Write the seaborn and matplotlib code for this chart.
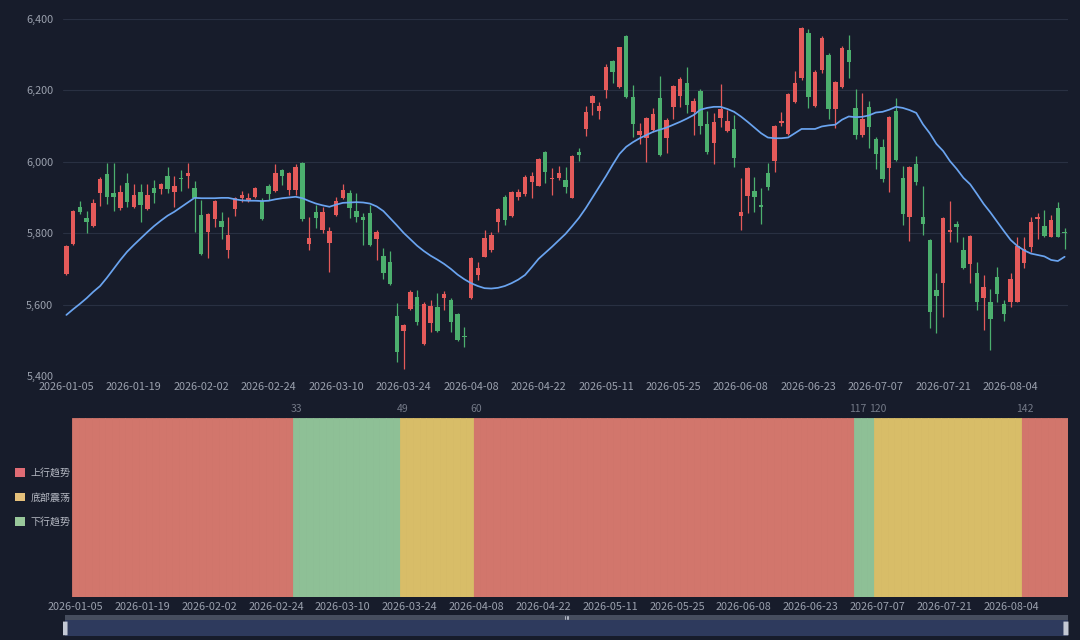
import numpy as np
import pandas as pd
import matplotlib
matplotlib.use("Agg")
import matplotlib.pyplot as plt
import seaborn as sns
from matplotlib.patches import Patch, Rectangle, FancyBboxPatch
from matplotlib.ticker import FuncFormatter

# trading calendar (weekdays minus exchange holidays)
holidays = ["2026-02-16", "2026-02-17", "2026-02-18", "2026-02-19", "2026-02-20",
            "2026-02-23", "2026-04-06", "2026-05-01", "2026-05-04", "2026-05-05",
            "2026-06-19"]
days = pd.bdate_range("2026-01-05", "2026-08-14")
days = days[~days.isin(pd.to_datetime(holidays))]
dates = [d.strftime("%Y-%m-%d") for d in days]

# OHLC
open_ = [5686, 5769, 5873, 5842, 5821, 5912, 5965, 5914, 5870, 5942,
         5872, 5916, 5867, 5928, 5924, 5961, 5916, 5954, 5961, 5926,
         5850, 5804, 5839, 5834, 5753, 5868, 5898, 5893, 5902, 5890,
         5932, 5919, 5977, 5921, 5921, 5996, 5770, 5860, 5809, 5772,
         5851, 5898, 5914, 5862, 5846, 5856, 5784, 5736, 5718, 5569,
         5526, 5588, 5622, 5490, 5548, 5594, 5619, 5613, 5573, 5513,
         5619, 5683, 5734, 5753, 5832, 5902, 5849, 5902, 5910, 5944,
         5933, 6028, 5951, 5956, 5949, 5900, 6028, 6092, 6164, 6143,
         6201, 6282, 6209, 6353, 6181, 6075, 6066, 6089, 6178, 6066,
         6153, 6184, 6222, 6139, 6198, 6105, 6052, 6122, 6086, 6091,
         5849, 5905, 5919, 5879, 5968, 6002, 6108, 6078, 6167, 6234,
         6360, 6156, 6257, 6299, 6148, 6209, 6313, 6150, 6075, 6154,
         6063, 6041, 5982, 6143, 5956, 5846, 5994, 5844, 5781, 5641,
         5661, 5804, 5826, 5753, 5713, 5688, 5619, 5606, 5678, 5602,
         5608, 5608, 5716, 5762, 5840, 5821, 5790, 5870, 5804]
high = [5768, 5864, 5890, 5862, 5896, 5958, 5998, 5998, 5935, 5968,
        5939, 5939, 5939, 5949, 5942, 5986, 5961, 5977, 5996, 5946,
        5893, 5856, 5893, 5859, 5844, 5902, 5918, 5914, 5929, 5898,
        5938, 5993, 5979, 5971, 5993, 6000, 5846, 5879, 5874, 5818,
        5902, 5937, 5921, 5914, 5856, 5879, 5809, 5758, 5751, 5605,
        5545, 5641, 5641, 5608, 5613, 5632, 5639, 5618, 5576, 5538,
        5734, 5720, 5809, 5802, 5870, 5907, 5918, 5923, 5963, 5971,
        6010, 6030, 5982, 5989, 5986, 6019, 6038, 6157, 6187, 6168,
        6273, 6285, 6322, 6355, 6215, 6108, 6126, 6150, 6240, 6122,
        6215, 6237, 6265, 6178, 6203, 6142, 6136, 6218, 6145, 6131,
        5954, 5986, 5958, 5926, 5996, 6103, 6140, 6192, 6255, 6378,
        6371, 6257, 6351, 6304, 6226, 6323, 6355, 6203, 6192, 6170,
        6070, 6063, 6129, 6178, 5989, 5988, 6016, 5932, 5783, 5688,
        5844, 5890, 5834, 5788, 5794, 5720, 5683, 5643, 5706, 5613,
        5688, 5790, 5790, 5846, 5856, 5865, 5851, 5888, 5814]
low = [5684, 5767, 5853, 5800, 5818, 5877, 5881, 5862, 5865, 5874,
       5870, 5830, 5865, 5884, 5909, 5912, 5872, 5919, 5926, 5804,
       5739, 5731, 5816, 5783, 5731, 5849, 5886, 5888, 5898, 5837,
       5893, 5916, 5935, 5907, 5907, 5835, 5753, 5814, 5800, 5692,
       5848, 5896, 5842, 5832, 5767, 5765, 5725, 5671, 5655, 5440,
       5420, 5586, 5543, 5487, 5524, 5524, 5585, 5524, 5499, 5482,
       5617, 5669, 5734, 5748, 5804, 5823, 5846, 5893, 5904, 5900,
       5931, 5940, 5907, 5949, 5912, 5898, 6002, 6073, 6131, 6119,
       6180, 6220, 6207, 6180, 6070, 6049, 6000, 6084, 6016, 6026,
       6119, 6153, 6136, 6075, 6077, 6022, 5994, 6098, 6084, 5986,
       5809, 5856, 5858, 5826, 5921, 5972, 6100, 6075, 6164, 6229,
       6150, 6154, 6250, 6120, 6094, 6206, 6234, 6063, 6070, 6040,
       5980, 5944, 5916, 6003, 5823, 5779, 5935, 5795, 5534, 5520,
       5564, 5774, 5776, 5699, 5660, 5585, 5529, 5473, 5608, 5555,
       5594, 5606, 5702, 5748, 5783, 5788, 5788, 5788, 5755]
close = [5765, 5862, 5860, 5830, 5884, 5951, 5901, 5902, 5916, 5888,
         5907, 5879, 5907, 5912, 5938, 5924, 5932, 5951, 5970, 5900,
         5742, 5854, 5890, 5818, 5794, 5900, 5907, 5900, 5926, 5840,
         5909, 5970, 5961, 5968, 5986, 5839, 5787, 5842, 5860, 5806,
         5891, 5921, 5870, 5844, 5837, 5767, 5804, 5688, 5657, 5466,
         5543, 5636, 5552, 5601, 5597, 5526, 5630, 5550, 5501, 5510,
         5730, 5702, 5786, 5795, 5867, 5837, 5916, 5916, 5957, 5961,
         6008, 5972, 5956, 5968, 5930, 6016, 6019, 6139, 6184, 6156,
         6265, 6251, 6321, 6182, 6106, 6086, 6124, 6133, 6019, 6117,
         6213, 6231, 6159, 6171, 6100, 6028, 6112, 6147, 6115, 6010,
         5858, 5984, 5902, 5872, 5930, 6100, 6114, 6190, 6222, 6376,
         6182, 6252, 6346, 6148, 6224, 6318, 6279, 6075, 6120, 6097,
         6022, 5951, 6125, 6005, 5853, 5986, 5944, 5826, 5578, 5624,
         5842, 5809, 5816, 5703, 5792, 5608, 5648, 5559, 5630, 5573,
         5671, 5764, 5755, 5832, 5844, 5793, 5837, 5790, 5800]
ma = [5571, 5587, 5602, 5618, 5636, 5652, 5675, 5700, 5725, 5748,
      5767, 5785, 5803, 5820, 5835, 5849, 5860, 5873, 5886, 5899,
      5898, 5898, 5898, 5899, 5899, 5895, 5892, 5891, 5891, 5890,
      5891, 5895, 5898, 5900, 5902, 5898, 5890, 5883, 5878, 5874,
      5880, 5885, 5886, 5887, 5886, 5883, 5875, 5862, 5842, 5822,
      5801, 5783, 5765, 5750, 5737, 5726, 5714, 5700, 5684, 5671,
      5660, 5652, 5646, 5645, 5647, 5652, 5660, 5670, 5683, 5705,
      5728, 5745, 5762, 5780, 5798, 5820, 5843, 5870, 5900, 5930,
      5960, 5992, 6022, 6042, 6055, 6066, 6075, 6084, 6090, 6096,
      6104, 6112, 6121, 6131, 6146, 6151, 6154, 6154, 6148, 6140,
      6127, 6112, 6096, 6080, 6068, 6066, 6066, 6068, 6080, 6092,
      6092, 6092, 6099, 6102, 6104, 6118, 6127, 6125, 6126, 6130,
      6138, 6140, 6146, 6154, 6151, 6145, 6137, 6105, 6080, 6050,
      6030, 6002, 5980, 5955, 5937, 5910, 5882, 5858, 5832, 5806,
      5781, 5764, 5752, 5743, 5739, 5735, 5725, 5722, 5734]

# market regimes: first index of each segment
regime_starts = [0, 33, 49, 60, 117, 120, 142]
regime_names = ["上行趋势", "下行趋势", "底部震荡", "上行趋势", "下行趋势", "底部震荡", "上行趋势"]
legend_order = ["上行趋势", "底部震荡", "下行趋势"]

n = len(dates)
regime = []
for k, s in enumerate(regime_starts):
    e = regime_starts[k + 1] if k + 1 < len(regime_starts) else n
    regime += [regime_names[k]] * (e - s)

bg = "#171c2b"
up_c, down_c = "#e45a5a", "#4caf6e"
bar_pal = {"上行趋势": "#d2766c", "底部震荡": "#d8bd68", "下行趋势": "#8ec096"}
leg_pal = {"上行趋势": "#e06c75", "底部震荡": "#e5c07b", "下行趋势": "#98c79a"}
txt_c = "#9aa0ad"

sns.set_theme(style="dark")
plt.rcParams["font.family"] = ["Noto Sans CJK SC", "DejaVu Sans"]
plt.rcParams["axes.unicode_minus"] = False

fig = plt.figure(figsize=(10.8, 6.4), dpi=100, facecolor=bg)
W, H = 1080, 640

# ---- candlestick panel
ax1 = fig.add_axes([63 / W, 1 - 376 / H, 1005 / W, 357 / H], facecolor=bg)
idx = np.arange(n)
o, h, l, c = map(np.array, (open_, high, low, close))
cols = np.where(c >= o, up_c, down_c)
ax1.vlines(idx, l, h, colors=cols, linewidth=0.9, zorder=2)
body = np.maximum(np.abs(c - o), 2.5)
ax1.bar(idx, body, bottom=np.minimum(o, c), width=0.66, color=cols, linewidth=0, zorder=3)
sns.lineplot(x=idx, y=ma, ax=ax1, color="#6aa4f0", linewidth=1.25, zorder=4)

ax1.set_xlim(-0.5, n - 0.5)
ax1.set_ylim(5400, 6400)
ax1.set_yticks(range(5400, 6401, 200))
ax1.yaxis.set_major_formatter(FuncFormatter(lambda v, p: f"{v:,.0f}"))
ax1.set_xticks(idx[::10])
ax1.set_xticklabels(dates[::10])
ax1.grid(axis="y", color="#293042", linewidth=0.8)
ax1.grid(axis="x", visible=False)
ax1.tick_params(axis="both", length=0, labelsize=7.8, colors=txt_c)
ax1.tick_params(axis="y", pad=7)
ax1.tick_params(axis="x", pad=4.5)
for s in ax1.spines.values():
    s.set_visible(False)
ax1.set_xlabel("")
ax1.set_ylabel("")

# ---- regime panel
ax2 = fig.add_axes([72 / W, 1 - 597 / H, 996 / W, 179 / H], facecolor=bg)
reg_df = pd.DataFrame({"i": idx, "v": 1, "regime": regime})
sns.barplot(data=reg_df, x="i", y="v", hue="regime", palette=bar_pal, dodge=False,
            width=1.0, errorbar=None, legend=False, saturation=1, ax=ax2, linewidth=0)
# close the antialiasing seams between neighbouring bars
for p in ax2.patches:
    p.set_edgecolor(p.get_facecolor())
    p.set_linewidth(0.6)
ax2.set_xlim(-0.5, n - 0.5)
ax2.set_ylim(0, 1)
ax2.set_yticks([])
ax2.set_xticks(idx[::10])
ax2.set_xticklabels(dates[::10])
ax2.tick_params(axis="x", length=0, labelsize=7.8, colors=txt_c, pad=3.5)
ax2.grid(False)
for s in ax2.spines.values():
    s.set_visible(False)
ax2.set_xlabel("")
ax2.set_ylabel("")
for s in regime_starts[1:]:
    ax2.text(s, 1.02, str(s), ha="center", va="bottom", fontsize=7.5, color="#737987",
             transform=ax2.get_xaxis_transform(), clip_on=False)

handles = [Patch(facecolor=leg_pal[k], edgecolor="none") for k in legend_order]
fig.legend(handles, legend_order, loc="upper left", bbox_to_anchor=(6 / W, 1 - 459 / H),
           frameon=False, fontsize=7.2, labelcolor="#b5b9c3", handlelength=0.95,
           handleheight=0.95, handletextpad=0.6, labelspacing=1.45)

# ---- data zoom slider
ax3 = fig.add_axes([63 / W, 1 - 637 / H, 1007 / W, 22 / H])
ax3.set_axis_off()
ax3.set_xlim(0, 1)
ax3.set_ylim(0, 1)
ax3.add_patch(Rectangle((0.002, 0.06), 0.996, 0.72, color="#2e3a5d", lw=0))
ax3.add_patch(Rectangle((0.002, 0.78), 0.996, 0.2, color="#464d5e", lw=0))
for hx in (0.002, 0.996):
    ax3.add_patch(FancyBboxPatch((hx - 0.0015, 0.08), 0.003, 0.62,
                                 boxstyle="round,pad=0.001", color="#c3c8d4", lw=0))
for gx in (-0.0018, 0, 0.0018):
    ax3.plot([0.5 + gx, 0.5 + gx], [0.8, 0.95], color="#c3c8d4", lw=0.6)

fig.savefig("out.png", dpi=100, facecolor=bg)
